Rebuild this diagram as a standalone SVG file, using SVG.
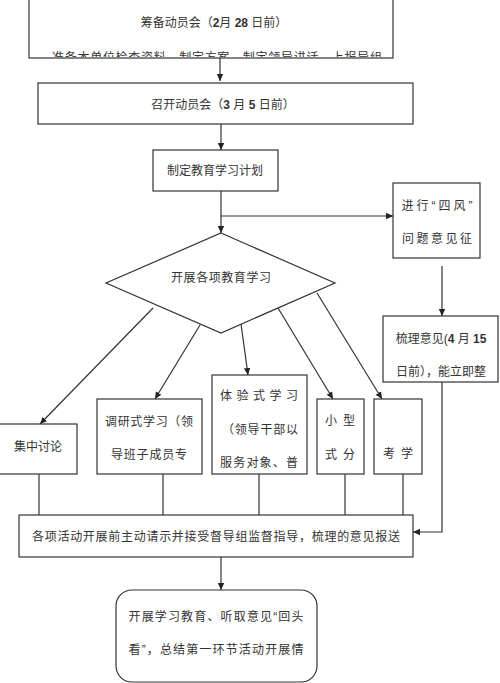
<svg xmlns="http://www.w3.org/2000/svg" width="500" height="683" viewBox="0 0 500 683">
<style>
.box{fill:#fff;stroke:#333;stroke-width:1.2}
.ln{fill:none;stroke:#333;stroke-width:1.2}
.t{font-family:"Liberation Sans","Noto Sans CJK SC",sans-serif;font-size:12px;fill:#333;text-anchor:middle}
.b{font-weight:bold}
</style>
<defs>
<marker id="ah" markerWidth="8" markerHeight="8" refX="7" refY="4" orient="auto" markerUnits="userSpaceOnUse">
<path d="M0,0.8 L7,4 L0,7.2 Z" fill="#222"/>
</marker>
<clipPath id="c1"><rect x="29" y="0" width="364" height="57"/></clipPath>
</defs>
<rect width="500" height="683" fill="#fff"/>
<g id="connectors">
<path class="ln" d="M220,58 V81" marker-end="url(#ah)"/>
<path class="ln" d="M221,124 V150" marker-end="url(#ah)"/>
<path class="ln" d="M221,191 V233" marker-end="url(#ah)"/>
<path class="ln" d="M221,216 H393" marker-end="url(#ah)"/>
<path class="ln" d="M442,266 V316" marker-end="url(#ah)"/>
<path class="ln" d="M153,308 L40,424" marker-end="url(#ah)"/>
<path class="ln" d="M200,325 L155,399" marker-end="url(#ah)"/>
<path class="ln" d="M241,324 L248,375" marker-end="url(#ah)"/>
<path class="ln" d="M278,308 L333,399" marker-end="url(#ah)"/>
<path class="ln" d="M317,293 L382,399" marker-end="url(#ah)"/>
<path class="ln" d="M39,474 V515 M163,474 V515 M259,474 V515 M345,474 V515 M403,474 V515"/>
<path class="ln" d="M442,382 V532 H413" marker-end="url(#ah)"/>
<path class="ln" d="M221,557 V590" marker-end="url(#ah)"/>
</g>
<g id="n1">
<rect class="box" x="29" y="-2" width="364" height="60"/>
<text class="t" x="214" y="27">筹备动员会（<tspan class="b">2</tspan>月 <tspan class="b">28</tspan> 日前）</text>
<text class="t" x="217" y="62" clip-path="url(#c1)" textLength="330" lengthAdjust="spacing">准备本单位检查资料，制定方案，制定领导讲话，上报导组</text>
</g>
<g id="n2">
<rect class="box" x="38" y="83" width="375" height="41"/>
<text class="t" x="223" y="109">召开动员会（<tspan class="b">3</tspan> 月 <tspan class="b">5</tspan> 日前）</text>
</g>
<g id="n3">
<rect class="box" x="153" y="150" width="125" height="41"/>
<text class="t" x="215" y="175">制定教育学习计划</text>
</g>
<g id="n4">
<rect class="box" x="393" y="183" width="87" height="75"/>
<text class="t" x="437" y="210" textLength="71" lengthAdjust="spacing">进行“四风”</text>
<text class="t" x="437" y="243" textLength="70" lengthAdjust="spacing">问题意见征</text>
</g>
<g id="n5">
<path class="box" d="M221,233 L335,283 L221,333 L106,283 Z"/>
<text class="t" x="221" y="282" textLength="100" lengthAdjust="spacing">开展各项教育学习</text>
</g>
<g id="n6">
<rect class="box" x="383" y="316" width="115" height="66"/>
<text class="t" x="441" y="343">梳理意见(<tspan class="b">4</tspan> 月 <tspan class="b">15</tspan></text>
<text class="t" x="441" y="376">日前），能立即整</text>
</g>
<g id="n7">
<rect class="box" x="-1" y="424" width="78" height="50"/>
<text class="t" x="38" y="451">集中讨论</text>
</g>
<g id="n8">
<rect class="box" x="97" y="399" width="105" height="75"/>
<text class="t" x="149" y="426" textLength="88" lengthAdjust="spacing">调研式学习（领</text>
<text class="t" x="149" y="459" textLength="76" lengthAdjust="spacing">导班子成员专</text>
</g>
<g id="n9">
<rect class="box" x="212" y="375" width="95" height="99"/>
<text class="t" x="259" y="400" textLength="78" lengthAdjust="spacing">体验式学习</text>
<text class="t" x="260" y="434" textLength="76" lengthAdjust="spacing">（领导干部以</text>
<text class="t" x="259" y="467" textLength="78" lengthAdjust="spacing">服务对象、普</text>
</g>
<g id="n10">
<rect class="box" x="317" y="399" width="47" height="75"/>
<text class="t" x="340" y="425" textLength="30" lengthAdjust="spacing">小型</text>
<text class="t" x="340" y="459" textLength="30" lengthAdjust="spacing">式分</text>
</g>
<g id="n11">
<rect class="box" x="374" y="399" width="48" height="75"/>
<text class="t" x="398" y="458" textLength="30" lengthAdjust="spacing">考学</text>
</g>
<g id="n12">
<rect class="box" x="19" y="515" width="394" height="42"/>
<text class="t" x="216" y="541" textLength="368" lengthAdjust="spacing">各项活动开展前主动请示并接受督导组监督指导，梳理的意见报送</text>
</g>
<g id="n13">
<rect class="box" x="116" y="590" width="201" height="92" rx="16" ry="16"/>
<text class="t" x="216" y="621" textLength="175" lengthAdjust="spacing">开展学习教育、听取意见“回头</text>
<text class="t" x="216" y="654" textLength="175" lengthAdjust="spacing">看”，总结第一环节活动开展情</text>
</g>
</svg>
